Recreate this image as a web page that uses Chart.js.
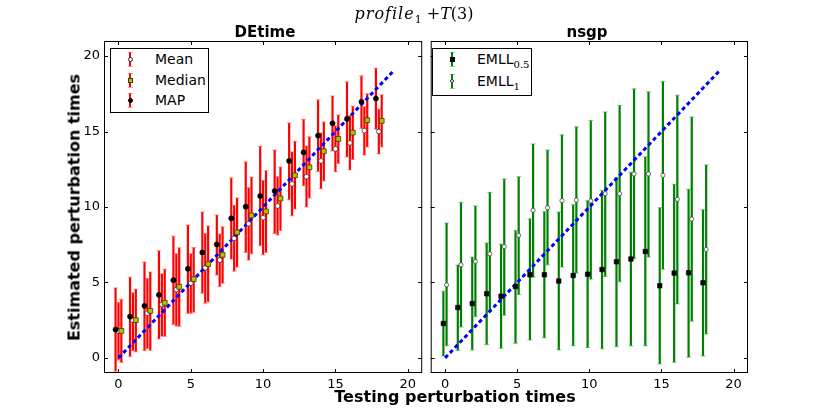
<!DOCTYPE html>
<html>
<head>
<meta charset="utf-8">
<script src="https://cdn.jsdelivr.net/npm/chart.js@4.4.0/dist/chart.umd.min.js"></script>
<style>
  body { margin: 0; background: #fff; }
  #wrap { position: relative; width: 830px; height: 415px; overflow: hidden; font-family: "DejaVu Sans", sans-serif; }
  canvas { position: absolute; top: 0; }
  .txt { position: absolute; white-space: nowrap; color: #000; }
  .bold { font-weight: bold; font-size: 15px; }
  .box { position: absolute; border: 1px solid #000; background: #fff; box-sizing: border-box; }
  .g { position: absolute; }
</style>
</head>
<body>
<div id="wrap">
  <canvas id="left" width="427" height="415" style="left:0"></canvas>
  <canvas id="right" width="404" height="415" style="left:426px"></canvas>

  <div class="txt" style="left:314px;top:4px;width:200px;text-align:center;font-family:'DejaVu Serif',serif;font-size:16px;line-height:20px;">
    <i style="letter-spacing:1px">profile</i><span style="font-size:11px;vertical-align:-4px">1</span> +<i>T</i>(3)
  </div>
  <div class="txt bold" style="left:165px;top:23px;width:200px;text-align:center;">DEtime</div>
  <div class="txt bold" style="left:487px;top:23px;width:200px;text-align:center;">nsgp</div>
  <div class="txt bold" style="left:305px;top:387px;width:300px;text-align:center;font-size:16px;">Testing perturbation times</div>
  <div class="txt bold" style="left:-76px;top:198px;width:300px;text-align:center;transform:rotate(-90deg);font-size:16px;">Estimated perturbation times</div>

  <div class="box" style="left:110px;top:48px;width:99px;height:65px"></div>
  <div class="box" style="left:432px;top:48px;width:100px;height:48px"></div>
</div>

<script>
// testing perturbation times (x categories)
const testTimes = [0, 1, 2, 3, 4, 5, 6, 7, 8, 9, 10, 11, 12, 13, 14, 15, 16, 17, 18];
const tickValues = [0, 5, 10, 15, 20];
const diagX = [0, 19];

// DEtime panel
const meanVal = [1.77, 2.50, 2.96, 3.54, 4.53, 4.95, 5.97, 6.48, 7.92, 8.89, 9.29, 10.07, 11.53, 12.01, 13.05, 13.85, 14.25, 15.06, 15.00];
const meanLo  = [-0.13, 0.49, 0.62, 1.44, 2.12, 2.96, 3.63, 4.73, 5.75, 6.48, 6.83, 8.14, 9.42, 10.00, 11.21, 12.34, 12.46, 13.45, 13.52];
const meanHi  = [3.67, 4.31, 5.26, 5.57, 6.90, 6.90, 8.25, 8.21, 10.11, 11.28, 11.75, 12.01, 13.65, 14.05, 14.91, 15.39, 16.06, 16.64, 16.48];

const medianVal = [1.79, 2.50, 3.12, 3.65, 4.71, 5.22, 6.22, 6.83, 8.32, 9.44, 9.71, 10.57, 12.10, 12.63, 13.69, 14.51, 14.93, 15.75, 15.71];
const medianLo  = [-0.31, 0.40, 0.51, 1.44, 2.10, 3.03, 3.72, 4.95, 6.02, 6.90, 6.99, 8.45, 9.87, 10.60, 11.72, 12.89, 13.14, 13.98, 13.98];
const medianHi  = [3.89, 4.56, 5.69, 5.88, 7.30, 7.32, 8.74, 8.69, 10.60, 11.99, 12.41, 12.65, 14.35, 14.65, 15.64, 16.10, 16.68, 17.50, 17.43];

const mapVal = [1.88, 2.74, 3.45, 4.18, 5.15, 5.91, 6.99, 7.52, 9.25, 10.02, 10.73, 11.06, 13.05, 13.62, 14.73, 15.55, 15.84, 16.97, 17.19];
const mapLo  = [-0.88, 0.09, 0.49, 1.26, 2.21, 2.96, 4.29, 5.49, 6.55, 6.99, 7.43, 8.25, 10.48, 11.41, 12.36, 13.71, 13.32, 15.20, 15.15];
const mapHi  = [4.64, 5.35, 6.35, 7.10, 8.07, 8.80, 9.67, 9.47, 11.92, 12.99, 14.02, 13.78, 15.57, 15.81, 17.10, 17.36, 18.29, 18.69, 19.20];

// nsgp panel
const emll05Val = [2.28, 3.34, 3.60, 4.25, 4.09, 4.73, 5.51, 5.51, 5.09, 5.46, 5.55, 5.86, 6.37, 6.55, 7.05, 4.78, 5.62, 5.64, 4.98];
const emll05Lo  = [0.13, 0.49, 0.53, 0.88, 0.64, 0.97, 1.19, 1.33, 0.53, 0.80, 0.69, 0.60, 0.75, 0.80, 0.80, -0.40, -0.29, 0.04, 0.13];
const emll05Hi  = [4.42, 6.15, 6.68, 7.61, 7.54, 8.45, 9.22, 9.69, 9.67, 10.15, 10.42, 11.10, 11.94, 12.30, 13.32, 9.95, 11.50, 11.17, 9.82];

const emll1Val = [4.84, 6.17, 6.39, 6.90, 7.37, 8.12, 9.78, 9.95, 10.42, 10.46, 10.40, 10.88, 10.88, 12.19, 12.19, 12.10, 10.51, 9.20, 7.19];
const emll1Lo  = [0.80, 2.04, 2.74, 3.07, 2.83, 4.20, 5.35, 6.17, 6.02, 5.62, 5.22, 5.40, 5.04, 6.57, 6.68, 5.88, 3.58, 2.43, 1.59];
const emll1Hi  = [8.94, 10.31, 10.07, 10.97, 11.86, 12.01, 14.18, 13.78, 14.78, 15.31, 15.73, 16.30, 16.74, 17.83, 17.63, 18.31, 17.41, 15.97, 12.79];

const RED = '#ff0000', RED_CAP = 'rgba(255,90,90,0.6)';
const GREEN = '#008000', GREEN_CAP = 'rgba(60,170,60,0.6)';

const pts = (vals, shift) => vals.map((v, i) => ({ x: testTimes[i] + shift, y: v }));
const diag = diagX.map(v => ({ x: v, y: v }));

// vertical error bars drawn under the markers
const errorBarPlugin = {
  id: 'errorBars',
  beforeDatasetsDraw(chart, args, opts) {
    const { ctx, chartArea: a, scales } = chart;
    ctx.save();
    ctx.beginPath();
    ctx.rect(a.left, a.top, a.right - a.left, a.bottom - a.top);
    ctx.clip();
    opts.sets.forEach(s => {
      s.lo.forEach((lo, i) => {
        const x = scales.x.getPixelForValue(testTimes[i] + s.shift);
        const y1 = scales.y.getPixelForValue(lo);
        const y2 = scales.y.getPixelForValue(s.hi[i]);
        ctx.strokeStyle = s.color;
        ctx.lineWidth = 2.2;
        ctx.beginPath();
        ctx.moveTo(x, y1);
        ctx.lineTo(x, y2);
        ctx.stroke();
        ctx.strokeStyle = s.cap;
        ctx.lineWidth = 1;
        ctx.beginPath();
        ctx.moveTo(x - 2.5, y1); ctx.lineTo(x + 2.5, y1);
        ctx.moveTo(x - 2.5, y2); ctx.lineTo(x + 2.5, y2);
        ctx.stroke();
      });
    });
    ctx.restore();
  }
};

// matplotlib-like box with inward ticks on all four sides
const framePlugin = {
  id: 'frame',
  afterDraw(chart) {
    const { ctx, chartArea: a, scales } = chart;
    ctx.save();
    ctx.strokeStyle = '#000';
    ctx.lineWidth = 1;
    ctx.beginPath();
    tickValues.forEach(v => {
      const x = Math.round(scales.x.getPixelForValue(v)) + 0.5;
      ctx.moveTo(x, a.bottom); ctx.lineTo(x, a.bottom - 4);
      ctx.moveTo(x, a.top); ctx.lineTo(x, a.top + 4);
      const y = Math.round(scales.y.getPixelForValue(v)) + 0.5;
      ctx.moveTo(a.left, y); ctx.lineTo(a.left + 4, y);
      ctx.moveTo(a.right, y); ctx.lineTo(a.right - 4, y);
    });
    ctx.stroke();
    ctx.strokeRect(a.left + 0.5, a.top + 0.5, a.right - a.left - 1, a.bottom - a.top - 1);
    ctx.restore();
  }
};

const tickFont = { family: 'DejaVu Sans', size: 13 };
const setTicks = scale => { scale.ticks = tickValues.map(v => ({ value: v })); };

function makeScales(showY) {
  return {
    x: {
      type: 'linear', min: -1, max: 21,
      afterBuildTicks: setTicks,
      afterFit: s => { s.height = 30; },
      grid: { display: false, drawTicks: false },
      border: { display: false },
      ticks: { font: tickFont, color: '#000', padding: 4, maxRotation: 0 }
    },
    y: {
      type: 'linear', min: -1, max: 21,
      display: showY,
      afterBuildTicks: setTicks,
      afterFit: s => { s.width = showY ? 104 : 0; },
      grid: { display: false, drawTicks: false },
      border: { display: false },
      ticks: { font: tickFont, color: '#000', padding: 4 }
    }
  };
}

const diagLine = {
  type: 'line', data: diag, order: 10,
  borderColor: '#0000ff', borderWidth: 3, borderDash: [4, 3],
  pointRadius: 0, fill: false
};

new Chart(document.getElementById('left'), {
  type: 'scatter',
  data: {
    datasets: [
      { label: 'MAP', data: pts(mapVal, -0.2), order: 1, pointStyle: 'circle', pointRadius: 2.6,
        backgroundColor: '#000', borderColor: '#000', borderWidth: 0.5 },
      { label: 'Median', data: pts(medianVal, 0.2), order: 2, pointStyle: 'rect', pointRadius: 3.4,
        backgroundColor: '#bdbd00', borderColor: '#3a3a00', borderWidth: 0.8 },
      { label: 'Mean', data: pts(meanVal, 0), order: 3, pointStyle: 'circle', pointRadius: 2.4,
        backgroundColor: '#fff', borderColor: '#222', borderWidth: 0.7 },
      diagLine
    ]
  },
  options: {
    responsive: false, animation: false, devicePixelRatio: 1,
    layout: { padding: { left: 0, top: 41, right: 1, bottom: 12 } },
    scales: makeScales(true),
    plugins: {
      legend: { display: false }, tooltip: { enabled: false },
      errorBars: { sets: [
        { lo: meanLo, hi: meanHi, shift: 0, color: RED, cap: RED_CAP },
        { lo: medianLo, hi: medianHi, shift: 0.2, color: RED, cap: RED_CAP },
        { lo: mapLo, hi: mapHi, shift: -0.2, color: RED, cap: RED_CAP }
      ] }
    }
  },
  plugins: [errorBarPlugin, framePlugin]
});

new Chart(document.getElementById('right'), {
  type: 'scatter',
  data: {
    datasets: [
      { label: 'EMLL_0.5', data: pts(emll05Val, -0.12), order: 1, pointStyle: 'rect', pointRadius: 3.2,
        backgroundColor: '#000', borderColor: '#000', borderWidth: 0.6 },
      { label: 'EMLL_1', data: pts(emll1Val, 0.1), order: 2, pointStyle: 'circle', pointRadius: 2.1,
        backgroundColor: '#fff', borderColor: '#333', borderWidth: 0.7 },
      Object.assign({}, diagLine, { data: diag })
    ]
  },
  options: {
    responsive: false, animation: false, devicePixelRatio: 1,
    layout: { padding: { left: 0, top: 41, right: 82, bottom: 12 } },
    scales: makeScales(false),
    plugins: {
      legend: { display: false }, tooltip: { enabled: false },
      errorBars: { sets: [
        { lo: emll05Lo, hi: emll05Hi, shift: -0.12, color: GREEN, cap: GREEN_CAP },
        { lo: emll1Lo, hi: emll1Hi, shift: 0.1, color: GREEN, cap: GREEN_CAP }
      ] }
    }
  },
  plugins: [errorBarPlugin, framePlugin]
});

// legend entries: error-bar glyph + marker + label
const wrap = document.getElementById('wrap');
function legendEntry(cx, cy, barColor, capColor, marker, labelHtml, textLeft) {
  const add = (css) => {
    const d = document.createElement('div');
    d.className = 'g';
    d.style.cssText = css;
    wrap.appendChild(d);
    return d;
  };
  add(`left:${cx - 1}px;top:${cy - 7}px;width:2px;height:14px;background:${barColor}`);
  add(`left:${cx - 2.5}px;top:${cy - 7}px;width:5px;height:1px;background:${capColor}`);
  add(`left:${cx - 2.5}px;top:${cy + 7}px;width:5px;height:1px;background:${capColor}`);
  add(`left:${cx - marker.s / 2}px;top:${cy - marker.s / 2}px;width:${marker.s}px;height:${marker.s}px;` +
      `box-sizing:border-box;background:${marker.fill};border:0.8px solid ${marker.edge};` +
      `border-radius:${marker.round ? '50%' : '0'}`);
  const t = document.createElement('div');
  t.className = 'txt';
  t.style.cssText = `left:${textLeft}px;top:${cy - 9}px;font-size:14px;line-height:18px;`;
  t.innerHTML = labelHtml;
  wrap.appendChild(t);
}

legendEntry(130, 59, RED, RED_CAP, { s: 5, fill: '#fff', edge: '#222', round: true }, 'Mean', 155);
legendEntry(130, 80, RED, RED_CAP, { s: 5, fill: '#bdbd00', edge: '#3a3a00', round: false }, 'Median', 155);
legendEntry(130, 100, RED, RED_CAP, { s: 5, fill: '#000', edge: '#000', round: true }, 'MAP', 155);

const subCss = "font-family:'DejaVu Serif',serif;font-size:10px;vertical-align:-4px";
legendEntry(452, 59, GREEN, GREEN_CAP, { s: 5, fill: '#000', edge: '#000', round: false },
  `EMLL<span style="${subCss}">0.5</span>`, 477);
legendEntry(452, 81, GREEN, GREEN_CAP, { s: 4.5, fill: '#fff', edge: '#333', round: true },
  `EMLL<span style="${subCss}">1</span>`, 477);
</script>
</body>
</html>
